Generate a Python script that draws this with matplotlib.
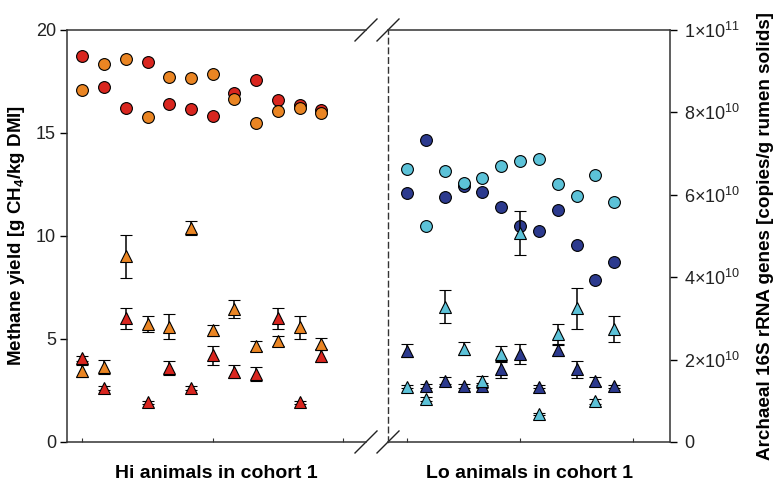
import numpy as np
import matplotlib
matplotlib.use("Agg")
import matplotlib.pyplot as plt

plt.rcParams['font.family'] = ['Liberation Sans', 'DejaVu Sans']
plt.rcParams['mathtext.fontset'] = 'custom'
plt.rcParams['mathtext.rm'] = 'Liberation Sans'
plt.rcParams['mathtext.bf'] = 'Liberation Sans:bold'

# animal index within each group
animals = np.arange(1, 13)

# methane yield, g CH4/kg DMI (circles)
hi_red_ch4 = [18.72, 17.22, 16.23, 18.46, 16.42, 16.16, 15.83, 16.96, 17.56, 16.62, 16.34, 16.12]
hi_orange_ch4 = [17.10, 18.36, 18.59, 15.78, 17.72, 17.65, 17.88, 16.67, 15.49, 16.08, 16.23, 15.99]
lo_navy_ch4 = [12.09, 14.65, 11.89, 12.43, 12.12, 11.41, 10.50, 10.24, 11.25, 9.55, 7.87, 8.72]
lo_cyan_ch4 = [13.25, 10.49, 13.17, 12.56, 12.83, 13.38, 13.64, 13.75, 12.51, 11.96, 12.98, 11.67]

# archaeal 16S rRNA gene copies, x10^10 per g rumen solids (triangles)
hi_red_arch = [2.03, 1.31, 3.00, 0.96, 1.79, 1.31, 2.10, 1.71, 1.64, 3.00, 0.96, 2.09]
hi_red_err = [0.06, 0.04, 0.25, 0.03, 0.17, 0.04, 0.22, 0.15, 0.17, 0.25, 0.03, 0.16]
hi_orange_arch = [1.73, 1.81, 4.51, 2.86, 2.80, 5.19, 2.71, 3.23, 2.32, 2.45, 2.78, 2.38]
hi_orange_err = [0.15, 0.17, 0.52, 0.20, 0.30, 0.17, 0.13, 0.21, 0.12, 0.13, 0.27, 0.15]
lo_navy_arch = [2.22, 1.35, 1.49, 1.36, 1.36, 1.76, 2.14, 1.34, 2.23, 1.76, 1.47, 1.35]
lo_navy_err = [0.16, 0.05, 0.08, 0.04, 0.06, 0.20, 0.24, 0.04, 0.15, 0.20, 0.10, 0.04]
lo_cyan_arch = [1.34, 1.04, 3.28, 2.26, 1.49, 2.14, 5.07, 0.68, 2.61, 3.24, 0.99, 2.74]
lo_cyan_err = [0.04, 0.05, 0.40, 0.16, 0.10, 0.20, 0.54, 0.03, 0.25, 0.50, 0.06, 0.32]

right_ticks = [0, 2, 4, 6, 8, 10]
right_labels = ['0', r'2×10$^{10}$', r'4×10$^{10}$', r'6×10$^{10}$', r'8×10$^{10}$', r'1×10$^{11}$']

RED = '#d9261f'
ORANGE = '#ea8523'
NAVY = '#2c3a8e'
CYAN = '#5cc2d8'

fig = plt.figure(figsize=(7.84, 4.9), dpi=100)
ax_hi = fig.add_axes([67 / 784, 0.098, 299 / 784, 0.8408])
ax_lo = fig.add_axes([388 / 784, 0.098, 282 / 784, 0.8408])
tw_hi = ax_hi.twinx()
tw_lo = ax_lo.twinx()

x = animals - 1
circ = dict(marker='o', ms=8.5, mec='black', mew=0.8, ls='none')
tri = dict(marker='^', ms=8.5, mec='black', mew=0.8, ls='none',
           ecolor='black', elinewidth=1.1, capsize=4.5, capthick=1.1)

ax_hi.plot(x, hi_red_ch4, mfc=RED, **circ)
ax_hi.plot(x, hi_orange_ch4, mfc=ORANGE, **circ)
ax_lo.plot(x, lo_navy_ch4, mfc=NAVY, **circ)
ax_lo.plot(x, lo_cyan_ch4, mfc=CYAN, **circ)

tw_hi.errorbar(x, hi_orange_arch, yerr=hi_orange_err, mfc=ORANGE, **tri)
tw_hi.errorbar(x, hi_red_arch, yerr=hi_red_err, mfc=RED, **tri)
tw_lo.errorbar(x, lo_navy_arch, yerr=lo_navy_err, mfc=NAVY, **tri)
tw_lo.errorbar(x, lo_cyan_arch, yerr=lo_cyan_err, mfc=CYAN, **tri)

ax_hi.set_xlim(-0.714, 13.06)
ax_lo.set_xlim(-1.01, 13.96)
for a in (ax_hi, ax_lo):
    a.set_ylim(0, 20)
    a.set_xticks([0, 6, 12])
    a.set_xticklabels([])
    a.tick_params(axis='x', direction='in', length=3, width=0.8, color='#333333')
for t in (tw_hi, tw_lo):
    t.set_ylim(0, 10)

spine_kw = dict(color='#333333', linewidth=1.1)
# left panel
ax_hi.set_yticks([0, 5, 10, 15, 20])
ax_hi.tick_params(axis='y', direction='out', length=5, width=1.0, labelsize=13,
                  pad=3, labelcolor='#222222')
ax_hi.spines['right'].set_visible(False)
for s in ('left', 'top', 'bottom'):
    ax_hi.spines[s].set(**spine_kw)
tw_hi.set_yticks([])
for s in tw_hi.spines.values():
    s.set_visible(False)

# right panel
ax_lo.set_yticks([])
ax_lo.spines['right'].set_visible(False)
ax_lo.spines['left'].set(color='#333333', linewidth=1.0, linestyle=(0, (4, 3)))
for s in ('top', 'bottom'):
    ax_lo.spines[s].set(**spine_kw)
for s in ('left', 'top', 'bottom'):
    tw_lo.spines[s].set_visible(False)
tw_lo.spines['right'].set(**spine_kw)
tw_lo.set_yticks(right_ticks)
tw_lo.set_yticklabels(right_labels)
tw_lo.tick_params(axis='y', direction='out', length=5, width=1.0, labelsize=13,
                  pad=5, labelcolor='#222222')

ax_hi.set_ylabel(r'Methane yield [g CH$_{\mathbf{4}}$/kg DMI]', fontsize=13.5,
                 fontweight='bold', labelpad=6)
tw_lo.set_ylabel('Archaeal 16S rRNA genes [copies/g rumen solids]', fontsize=13.6,
                 fontweight='bold', labelpad=12)
ax_hi.set_xlabel('Hi animals in cohort 1', fontsize=14, fontweight='bold', labelpad=13)
ax_lo.set_xlabel('Lo animals in cohort 1', fontsize=14, fontweight='bold', labelpad=13)

# axis break marks
dx, dy = 11 / 299, 11 / 412
for yy in (0, 1):
    ax_hi.plot([1 - dx, 1 + dx], [yy - dy, yy + dy], transform=ax_hi.transAxes,
               color='#222222', lw=1.0, clip_on=False)
dx2 = 11 / 282
for yy in (0, 1):
    ax_lo.plot([-dx2, dx2], [yy - dy, yy + dy], transform=ax_lo.transAxes,
               color='#222222', lw=1.0, clip_on=False)

fig.savefig('out.png', dpi=100)
